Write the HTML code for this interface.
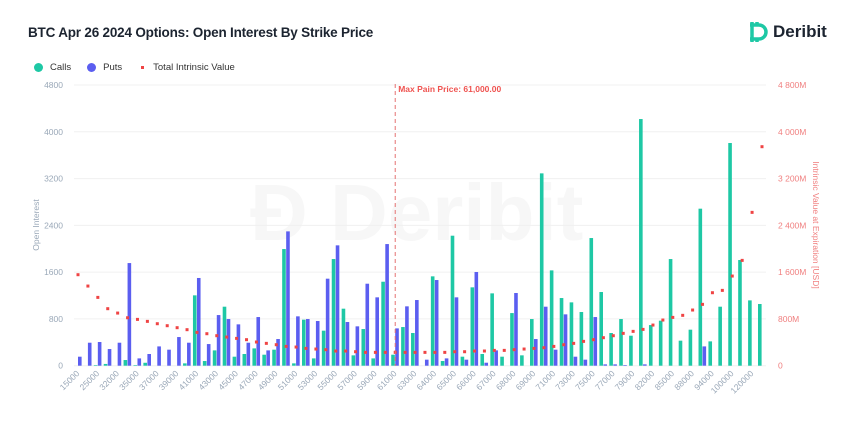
<!DOCTYPE html>
<html><head><meta charset="utf-8">
<style>
body{margin:0;width:850px;height:425px;background:#fff;font-family:"Liberation Sans",sans-serif;overflow:hidden;position:relative}
.title{position:absolute;left:28px;top:25px;font-size:13.5px;font-weight:bold;color:#1c2430;letter-spacing:-0.2px}
.logo{position:absolute;left:748px;top:20px;display:flex;align-items:center;font-weight:bold;font-size:17px;color:#1c2430}
.legend{position:absolute;left:34px;top:62px;font-size:9.5px;color:#333;display:flex;align-items:center}
.legend span{display:inline-flex;align-items:center;margin-right:16px}
.dot{width:9px;height:9px;border-radius:50%;display:inline-block;margin-right:7px}
</style></head><body>
<div class="title">BTC Apr 26 2024 Options: Open Interest By Strike Price</div>
<div class="logo">
<svg width="22" height="24" viewBox="0 0 22 24"><path d="M4 2v20M9 2v3M9 19v3M2 5h9a7 7 0 0 1 0 14H2" fill="none" stroke="#1ec8a5" stroke-width="3.5"/></svg>
<span style="margin-left:3px">Deribit</span></div>
<div class="legend">
<span><i class="dot" style="background:#1ec8a5"></i>Calls</span>
<span><i class="dot" style="background:#5b5ef0"></i>Puts</span>
<span><i style="width:3px;height:3px;background:#ef4444;display:inline-block;margin-right:9px;margin-left:3px"></i>Total Intrinsic Value</span>
</div>
<svg id="chart" width="850" height="425" style="position:absolute;left:0;top:0"></svg>
<script>
const categories=["15000","20000","25000","30000","32000","34000","35000","36000","37000","38000","39000","40000","41000","42000","43000","44000","45000","46000","47000","48000","49000","50000","51000","52000","53000","54000","55000","56000","57000","58000","59000","60000","61000","62000","63000","63500","64000","64500","65000","65500","66000","66500","67000","67500","68000","68500","69000","70000","71000","72000","73000","74000","75000","76000","77000","78000","79000","80000","82000","84000","85000","86000","88000","90000","94000","95000","100000","110000","120000","150000"];
const calls=[0,0,10,30,0,97,10,50,0,0,0,40,1203,80,262,1009,154,200,296,188,274,1995,40,787,125,599,1824,975,177,627,125,1436,188,661,559,0,1528,80,2223,154,1340,200,1237,154,900,177,798,3289,1630,1157,1083,918,2183,1260,559,798,513,4218,695,770,1824,428,616,2685,416,1009,3808,1807,1117,1055];
const puts=[154,393,405,285,393,1755,125,200,330,274,490,393,1500,370,866,798,707,393,832,262,456,2297,844,798,764,1488,2058,747,673,1402,1169,2080,638,1015,1123,103,1465,125,1169,103,1602,51,262,0,1243,0,456,1009,274,878,154,103,832,23,23,11,0,23,0,0,0,0,0,330,0,0,0,0,0,0];
const intrinsicM=[1556,1362,1168,975,900,820,792,758,718,684,650,616,570,547,513,490,467,445,405,382,359,330,319,296,285,274,251,251,239,228,228,228,228,228,228,228,228,228,239,239,251,251,262,262,274,285,296,308,330,359,382,416,445,479,513,553,587,621,695,781,826,861,952,1049,1248,1288,1533,1801,2622,3745];
const leftTicks=[0,800,1600,2400,3200,4000,4800];
const rightTicks=["0","800M","1 600M","2 400M","3 200M","4 000M","4 800M"];
const maxPain="61000";
const NS="http://www.w3.org/2000/svg";
const svg=document.getElementById('chart');
const X0=78,STEP=(762-78)/69,Y0=365.7,YT=85,VMAX=4800;
const x=i=>X0+i*STEP;
const y=v=>Y0-(v/VMAX)*(Y0-YT);
function mk(t,a){const e=document.createElementNS(NS,t);for(const k in a)e.setAttribute(k,a[k]);svg.appendChild(e);return e;}
const wm=mk('text',{x:250,y:240,'font-size':80,'font-weight':'bold',fill:'#f7f7f7','font-family':'Liberation Sans'});
wm.textContent='Ɖ Deribit';


leftTicks.forEach((t,i)=>{
 const g=mk('line',{x1:74,x2:766,y1:y(t),y2:y(t),stroke:'#f0f0f0','stroke-width':1});
 
 
 const l=mk('text',{x:63,y:y(t)+3,'font-size':8.5,fill:'#9aa8b8','text-anchor':'end'});l.textContent=t;
 
 
 const r=mk('text',{x:778,y:y(t)+3,'font-size':8.5,fill:'#f08080'});r.textContent=rightTicks[i];
 
 
});
categories.forEach((c,i)=>{
 const cx=x(i);
 if(calls[i]>0){const b=mk('rect',{x:cx-4,y:y(calls[i]),width:3.6,height:Y0-y(calls[i]),fill:'#1ec8a5'});
 
 }
 if(puts[i]>0){const b=mk('rect',{x:cx,y:y(puts[i]),width:3.6,height:Y0-y(puts[i]),fill:'#5b5ef0'});
 
 }
 if(i%2===0){const t=mk('text',{x:cx+2,y:374,'font-size':8.5,fill:'#9aa8b8','text-anchor':'end',transform:`rotate(-45 ${cx+2} 374)`});t.textContent=c;
 
 }
});
categories.forEach((c,i)=>{
 const d=mk('rect',{x:x(i)-1.5,y:y(intrinsicM[i])-1.5,width:3,height:3,fill:'#ef4444'});
 
 
});
const mp=x(categories.indexOf(maxPain));
const ml=mk('line',{x1:mp,x2:mp,y1:84,y2:Y0,stroke:'#e57373','stroke-width':1,'stroke-dasharray':'4,3'});


const mt=mk('text',{x:mp+3,y:92,'font-size':8.5,'font-weight':'bold',fill:'#ef5350'});mt.textContent='Max Pain Price: 61,000.00';


const yt=mk('text',{x:0,y:0,'font-size':8.5,fill:'#9aa8b8','text-anchor':'middle',transform:'translate(39 225) rotate(-90)'});yt.textContent='Open Interest';


const y2=mk('text',{x:0,y:0,'font-size':8.5,fill:'#f08080','text-anchor':'middle',transform:'translate(813 225) rotate(90)'});y2.textContent='Intrinsic Value at Expiration [USD]';


</script>
</body></html>
